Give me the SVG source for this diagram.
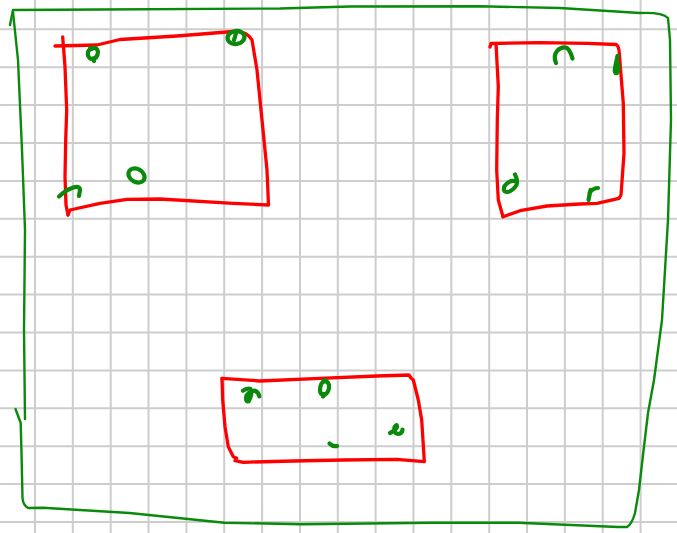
<svg xmlns="http://www.w3.org/2000/svg" width="677" height="533" viewBox="0 0 677 533">
<style>
.grid line{stroke:#cdcdcd;stroke-width:2}
.ink{fill:none;stroke-linecap:round;stroke-linejoin:round}
.green{stroke:#0a8a0a;stroke-width:2.4}
.red{stroke:#ff0000;stroke-width:3.3}
.mark{stroke:#0a8a0a;stroke-width:4.2}
</style>
<rect width="677" height="533" fill="#ffffff"/>
<g class="grid">
<line x1="35" y1="0" x2="35" y2="533"/>
<line x1="72.8" y1="0" x2="72.8" y2="533"/>
<line x1="110.7" y1="0" x2="110.7" y2="533"/>
<line x1="148.5" y1="0" x2="148.5" y2="533"/>
<line x1="186.4" y1="0" x2="186.4" y2="533"/>
<line x1="224.2" y1="0" x2="224.2" y2="533"/>
<line x1="262.1" y1="0" x2="262.1" y2="533"/>
<line x1="300" y1="0" x2="300" y2="533"/>
<line x1="337.8" y1="0" x2="337.8" y2="533"/>
<line x1="375.6" y1="0" x2="375.6" y2="533"/>
<line x1="413.5" y1="0" x2="413.5" y2="533"/>
<line x1="451.3" y1="0" x2="451.3" y2="533"/>
<line x1="489.2" y1="0" x2="489.2" y2="533"/>
<line x1="527" y1="0" x2="527" y2="533"/>
<line x1="564.9" y1="0" x2="564.9" y2="533"/>
<line x1="602.7" y1="0" x2="602.7" y2="533"/>
<line x1="640.6" y1="0" x2="640.6" y2="533"/>
<line x1="0" y1="29.3" x2="677" y2="29.3"/>
<line x1="0" y1="67.2" x2="677" y2="67.2"/>
<line x1="0" y1="105.1" x2="677" y2="105.1"/>
<line x1="0" y1="143" x2="677" y2="143"/>
<line x1="0" y1="180.9" x2="677" y2="180.9"/>
<line x1="0" y1="218.8" x2="677" y2="218.8"/>
<line x1="0" y1="256.7" x2="677" y2="256.7"/>
<line x1="0" y1="294.6" x2="677" y2="294.6"/>
<line x1="0" y1="332.5" x2="677" y2="332.5"/>
<line x1="0" y1="370.4" x2="677" y2="370.4"/>
<line x1="0" y1="408.3" x2="677" y2="408.3"/>
<line x1="0" y1="446.2" x2="677" y2="446.2"/>
<line x1="0" y1="484.1" x2="677" y2="484.1"/>
<line x1="0" y1="522" x2="677" y2="522"/>
</g>
<g id="frame" class="ink green">
<path d="M10 25 L13 10 L100 9.5 L280 8.5 L350 6.5 L480 6.3 L560 8 L640 13 Q662 12 668 18 L670 40 L671 120 L668 220 L662 320 L654 380 L648 413 L643 455 L639 490 L635 513 Q632 524 627 527 L618 527 L518 522.7 L432 522.7 L302 524.3 L224.5 522.7 L129.5 513 L43 507.7 L28 508 Q23 505 22.5 498 L21.6 457 L20.7 423 L15.5 409"/>
<path d="M13 12 L18 60 L22 150 L25 230 L24 330 L25 419"/>
</g>
<g id="connectors"/>
<g id="box-top-left">
<path class="ink red" d="M55 46 L97 45 L120 39.5 L177 36 L233 31.5 Q247 31 252 40 L257 70 L263 130 L267 170 L268.5 205 L233 203.3 L160 199 L127 199.3 L100 203.3 L70 210 L68 215"/>
<path class="ink red" d="M62.7 37 L65 66.7 L66.7 110 L65.7 140 L65 176.7 L66 205 L68 215"/>
<path class="ink mark" d="M90 48.5 Q97 46 98 52 Q97.5 59 91.5 59 Q87 57.5 88 52 Q89 49 92 49 M93 58.5 L94 61"/>
<ellipse class="ink mark" cx="236" cy="37.5" rx="8.5" ry="6.5" transform="rotate(-8 236 37.5)"/>
<path class="ink mark" d="M236 33 Q235 37 234 40"/>
<ellipse class="ink mark" cx="136.5" cy="175.5" rx="8.5" ry="6.5" transform="rotate(30 136.5 175.5)"/>
<path class="ink mark" d="M59 196.5 Q66 190 72 188 Q80 185 80 190 L79 196" stroke-width="4.8"/>
</g>
<g id="box-top-right">
<path class="ink red" d="M490 47 L491 43.5 L540 42.7 L587 43.3 L616 44.5 Q619 46 619.3 53.3 L623.3 103.3 L624 153.3 L621 195 L619 198.3 L597 203.3 L580 204 L547 206 L520 210.7 L503 216.7"/>
<path class="ink red" d="M496 43.3 L498.3 86.7 L497.3 120 L496.7 170 L498.3 200 L503 216.7"/>
<path class="ink mark" d="M556 63 Q553 56 557 51 Q562 46 567 48 Q570 50 572.5 58.5"/>
<path class="ink mark" d="M617.5 56 L615 68 Q614 74 617 73 Q619.5 70 618 64"/>
<path class="ink mark" d="M516.5 181.5 Q510 179 504.5 186 Q502.5 192 507 192 Q512.5 191.5 516.5 185 Q518 180 515 174.5"/>
<path class="ink mark" d="M588.5 200 L590.5 190 M589.5 193 Q593 188 598 188"/>
</g>
<g id="box-bottom">
<path class="ink red" d="M222 378.3 L260 381 L320 378.3 L376.7 376 L409 375 L411 378 L413.3 380 L418.3 400 L421.7 420 L423.3 445 L424.3 461.7 L396.7 459.3 L343.3 460 L293.3 461 L243.3 462.3 L235 460.7"/>
<path class="ink red" d="M222 378.3 L222.7 400 L225 426.7 L228.3 446.7 L233.3 456.7 L236.7 458.3"/>
<path class="ink mark" d="M243 390.7 Q247 387.5 250.5 389 Q253 393 248.5 401.5 Q245 401.5 246.5 395.5 Q250 391 255 390.7 Q258.5 392 259.3 396.5"/>
<path class="ink mark" d="M325 380 Q320 383 320 390 Q320 395 324.5 395 Q329.5 392 329 385 Q327.5 380.5 325 381.5 M323.5 394 L323 396.5"/>
<path class="ink mark" d="M329.5 443.5 Q333 447 337 446" stroke-width="5.5"/>
<path class="ink mark" d="M390 433 Q395 431 397 427 Q397 423 394.5 427 Q393 433 398 434 Q402.5 433.5 402.5 429.5"/>
</g>
</svg>
